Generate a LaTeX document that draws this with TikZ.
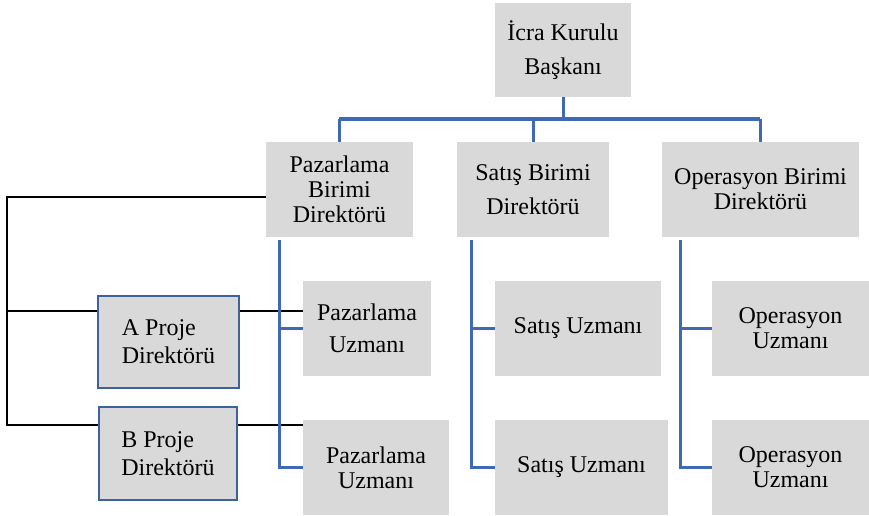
\documentclass[tikz,border=0pt]{standalone}
\usepackage{fontspec}
\setmainfont{Liberation Serif}
\definecolor{boxgray}{HTML}{D9D9D9}
\definecolor{linkblue}{HTML}{4069B4}
\definecolor{edgeblue}{HTML}{3E62A0}
\tikzset{
  orgbox/.style={fill=boxgray, inner sep=0pt, align=center, font=\fontsize{24}{25}\selectfont},
  projbox/.style={orgbox, draw=edgeblue, line width=2.5pt, align=left, font=\fontsize{24}{28}\selectfont},
  bluelink/.style={draw=linkblue, line width=3pt},
  blacklink/.style={draw=black, line width=2pt}
}
\begin{document}
\begin{tikzpicture}[x=1pt,y=-1pt]
\useasboundingbox (0,0) rectangle (869,516);
% boxes
\node[orgbox, minimum width=136pt, minimum height=94pt, font=\fontsize{24}{34}\selectfont] (ceo) at (563,50) {İcra Kurulu\\Başkanı};
\node[orgbox, minimum width=147pt, minimum height=95pt] (pbd) at (339.5,189.5) {Pazarlama\\Birimi\\Direktörü};
\node[orgbox, minimum width=152pt, minimum height=95pt, font=\fontsize{24}{34}\selectfont] (sbd) at (533,189.5) {Satış Birimi\\Direktörü};
\node[orgbox, minimum width=197pt, minimum height=95pt] (obd) at (760.5,189.5) {Operasyon Birimi\\Direktörü};
\node[orgbox, minimum width=128pt, minimum height=95pt, font=\fontsize{24}{32}\selectfont] (pu1) at (367,328.5) {Pazarlama\\Uzmanı};
\node[orgbox, minimum width=146pt, minimum height=95pt] (pu2) at (376,467.5) {Pazarlama\\Uzmanı};
\node[orgbox, minimum width=166pt, minimum height=95pt] (su1) at (578,328.5) {Satış Uzmanı};
\node[orgbox, minimum width=173pt, minimum height=95pt] (su2) at (581.5,467.5) {Satış Uzmanı};
\node[orgbox, minimum width=157pt, minimum height=95pt] (ou1) at (790.5,328.5) {Operasyon\\Uzmanı};
\node[orgbox, minimum width=157pt, minimum height=95pt] (ou2) at (790.5,467.5) {Operasyon\\Uzmanı};
\node[projbox, minimum width=141pt, minimum height=92pt] (ap) at (168.5,342) {A Proje\\Direktörü};
\node[projbox, minimum width=138pt, minimum height=93pt] (bp) at (168,453.5) {B Proje\\Direktörü};
% coordinates
\coordinate (busL) at (339,119);
\coordinate (busR) at (760,119);
\coordinate (ps) at (279,240);
\coordinate (ss) at (471,240);
\coordinate (os) at (680,240);
\coordinate (lt) at (7,197);
\coordinate (lm) at (7,311);
\coordinate (lb) at (7,425);
% black project links
\draw[blacklink] (lt -| pbd.west) -- (lt) -- (lb) -- (lb -| bp.west);
\draw[blacklink] (lm) -- (lm -| ap.west);
\draw[blacklink] (lm -| ap.east) -- (lm -| pu1.west);
\draw[blacklink] (lb -| bp.east) -- (lb -| pu2.west);
% blue hierarchy links
\draw[bluelink] (ceo.south) -- (ceo.south |- busL);
\draw[bluelink] (busL) -- (busR);
\draw[bluelink] (busL) -- (busL |- pbd.north);
\draw[bluelink] (sbd.north |- busL) -- (sbd.north);
\draw[bluelink] (busR) -- (busR |- obd.north);
\draw[bluelink] (ps) |- (pu2.west);
\draw[bluelink] (ps |- pu1.west) -- (pu1.west);
\draw[bluelink] (ss) |- (su2.west);
\draw[bluelink] (ss |- su1.west) -- (su1.west);
\draw[bluelink] (os) |- (ou2.west);
\draw[bluelink] (os |- ou1.west) -- (ou1.west);
\end{tikzpicture}
\end{document}
